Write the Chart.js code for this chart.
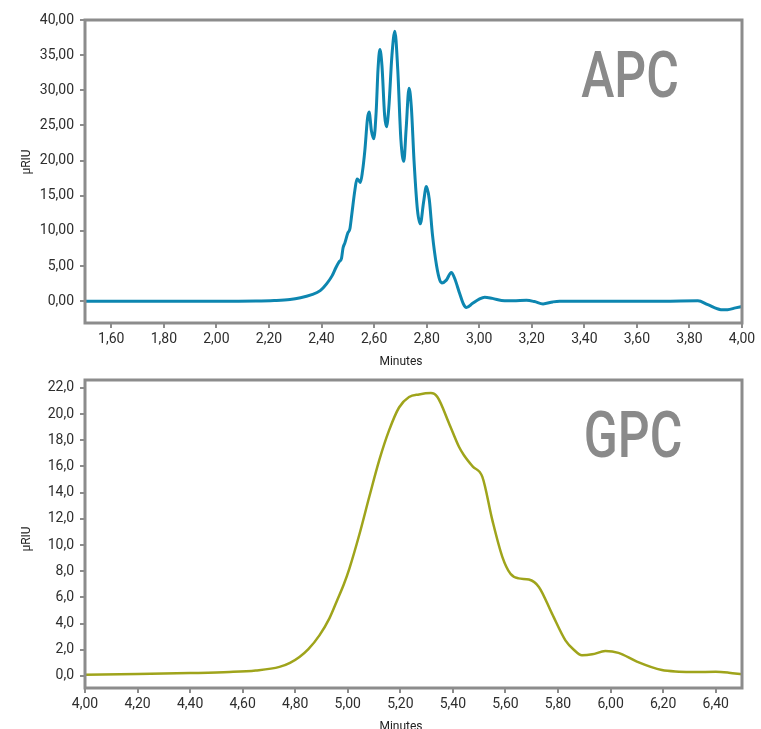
<!DOCTYPE html>
<html>
<head>
<meta charset="utf-8">
<script src="https://cdn.jsdelivr.net/npm/chart.js@4.4.1/dist/chart.umd.min.js"></script>
<style>
  body { margin: 0; background: #fff; }
  .box { position: absolute; left: 0; width: 761px; }
  #apcBox { top: 0; height: 370px; }
  #gpcBox { top: 360px; height: 369px; }
</style>
</head>
<body>
<div class="box" id="apcBox"><canvas id="apcChart"></canvas></div>
<div class="box" id="gpcBox"><canvas id="gpcChart"></canvas></div>
<script>
// APC trace (minutes, µRIU)
const apcTime = [1.50, 1.80, 2.00, 2.15, 2.22, 2.28, 2.32, 2.36, 2.395, 2.42, 2.44, 2.455, 2.467, 2.476, 2.482,
  2.489, 2.500, 2.508, 2.515, 2.527, 2.535, 2.541, 2.548, 2.556, 2.565, 2.575, 2.581, 2.590, 2.599,
  2.608, 2.615, 2.622, 2.630, 2.640, 2.647, 2.656, 2.668, 2.679, 2.690, 2.702, 2.713, 2.722, 2.733,
  2.742, 2.752, 2.765, 2.776, 2.788, 2.799, 2.810, 2.822, 2.838, 2.850, 2.858, 2.875, 2.894, 2.906,
  2.926, 2.940, 2.951, 2.975, 3.000, 3.021, 3.050, 3.097, 3.140, 3.180, 3.210, 3.243, 3.280, 3.306,
  3.500, 3.700, 3.832, 3.870, 3.920, 3.945, 3.975, 4.000];
const apcSignal = [0.00, 0.00, -0.02, 0.02, 0.10, 0.25, 0.50, 0.90, 1.50, 2.5, 3.6, 4.8, 5.6, 6.1, 7.6,
  8.3, 9.7, 10.3, 12.3, 15.8, 17.4, 17.2, 16.9, 18.5, 21.5, 26.0, 26.9, 24.2, 23.1,
  27.0, 33.0, 35.8, 33.5, 26.5, 24.8, 27.5, 35.0, 38.4, 33.0, 23.0, 19.9, 24.5, 30.3,
  27.5, 20.0, 13.0, 11.0, 14.0, 16.3, 14.5, 9.5, 5.0, 3.0, 2.6, 3.0, 4.1, 3.3,
  1.05, -0.4, -0.9, -0.3, 0.3, 0.57, 0.4, 0.05, 0.08, 0.12, -0.05, -0.38, -0.1, 0.0,
  0.0, 0.0, 0.05, -0.5, -1.2, -1.2, -0.95, -0.75];
const apcXTicks = [1.6, 1.8, 2.0, 2.2, 2.4, 2.6, 2.8, 3.0, 3.2, 3.4, 3.6, 3.8, 4.0];
const apcYTicks = [0, 5, 10, 15, 20, 25, 30, 35, 40];

// GPC trace (minutes, µRIU)
const gpcTime = [4.00, 4.20, 4.40, 4.55, 4.65, 4.74, 4.78, 4.816, 4.85, 4.892, 4.93, 4.96, 4.985, 5.006, 5.044,
  5.082, 5.120, 5.157, 5.195, 5.233, 5.271, 5.316, 5.341, 5.385, 5.423, 5.442, 5.475, 5.512, 5.550,
  5.588, 5.619, 5.650, 5.689, 5.727, 5.777, 5.828, 5.860, 5.891, 5.930, 5.980, 6.030, 6.100, 6.195,
  6.260, 6.320, 6.400, 6.450, 6.500];
const gpcSignal = [0.10, 0.15, 0.22, 0.30, 0.42, 0.69, 1.00, 1.45, 2.05, 3.1, 4.4, 5.8, 7.0, 8.2, 10.8,
  13.7, 16.5, 18.75, 20.5, 21.3, 21.5, 21.6, 21.3, 19.3, 17.5, 16.85, 16.0, 15.2, 11.9,
  9.1, 7.8, 7.45, 7.36, 6.8, 4.76, 2.72, 2.0, 1.58, 1.65, 1.9, 1.76, 1.10, 0.45,
  0.33, 0.30, 0.32, 0.25, 0.12];
const gpcXTicks = [4.0, 4.2, 4.4, 4.6, 4.8, 5.0, 5.2, 5.4, 5.6, 5.8, 6.0, 6.2, 6.4];
const gpcYTicks = [0, 2, 4, 6, 8, 10, 12, 14, 16, 18, 20, 22];

const FONT = "Roboto, 'DejaVu Sans', sans-serif";
const AXIS_GREY = "#8c8c8c";

// frame round the plot plus the free text (big label, axis names)
const framePlugin = {
  id: "frame",
  afterDraw(chart, args, opts) {
    const ctx = chart.ctx;
    const a = chart.chartArea;
    ctx.save();
    ctx.strokeStyle = AXIS_GREY;
    ctx.lineWidth = 3;
    ctx.strokeRect(a.left, a.top, a.right - a.left, a.bottom - a.top);

    // big name in the corner
    ctx.fillStyle = "#8a8a8a";
    ctx.textAlign = "center";
    ctx.textBaseline = "alphabetic";
    ctx.save();
    ctx.translate(opts.labelX, a.top + 77);
    ctx.scale(0.78, 1);
    ctx.font = "500 64px " + FONT;
    ctx.fillText(opts.label, 0, 0);
    ctx.restore();

    // axis names
    ctx.fillStyle = "#222";
    ctx.font = "12px " + FONT;
    ctx.fillText("Minutes", 401, a.bottom + 42);
    ctx.translate(30, opts.yTitleY);
    ctx.rotate(-Math.PI / 2);
    ctx.fillText("µRIU", 0, 0);
    ctx.restore();
  }
};

function makeChart(id, cfg) {
  const points = cfg.time.map((t, i) => ({ x: t, y: cfg.signal[i] }));
  return new Chart(document.getElementById(id), {
    type: "line",
    data: {
      datasets: [{
        data: points,
        borderColor: cfg.color,
        borderWidth: cfg.lineWidth,
        pointRadius: 0,
        cubicInterpolationMode: "monotone",
        fill: false
      }]
    },
    options: {
      responsive: true,
      maintainAspectRatio: false,
      animation: false,
      layout: { padding: { top: 20, right: 19, left: 0, bottom: 0 } },
      plugins: {
        legend: { display: false },
        tooltip: { enabled: false },
        frame: { label: cfg.label, labelX: cfg.labelX, yTitleY: cfg.yTitleY }
      },
      scales: {
        x: {
          type: "linear",
          min: cfg.xMin,
          max: cfg.xMax,
          afterBuildTicks: s => { s.ticks = cfg.xTicks.map(v => ({ value: v })); },
          afterFit: s => { s.height = cfg.xAxisHeight; },
          grid: { drawOnChartArea: false, tickLength: 5, color: AXIS_GREY, lineWidth: 2 },
          border: { display: false },
          ticks: {
            color: "#2e2e2e", font: { family: FONT, size: 14 }, padding: 3,
            maxRotation: 0, autoSkip: false,
            callback: v => v.toFixed(2).replace(".", ",")
          }
        },
        y: {
          min: cfg.yMin,
          max: cfg.yMax,
          afterBuildTicks: s => { s.ticks = cfg.yTicks.map(v => ({ value: v })); },
          afterFit: s => { s.width = 85; },
          grid: { drawOnChartArea: false, tickLength: 5, color: AXIS_GREY, lineWidth: 2 },
          border: { display: false },
          ticks: {
            color: "#2e2e2e", font: { family: FONT, size: 14 }, padding: 6,
            callback: v => v.toFixed(cfg.yDigits).replace(".", ",")
          }
        }
      }
    },
    plugins: [framePlugin]
  });
}

window.addEventListener("DOMContentLoaded", () => {
  makeChart("apcChart", {
    time: apcTime, signal: apcSignal, xTicks: apcXTicks, yTicks: apcYTicks,
    xMin: 1.5, xMax: 4.0, yMin: -3.1, yMax: 40, yDigits: 2,
    color: "#0d86b0", lineWidth: 3, xAxisHeight: 47,
    label: "APC", labelX: 630, yTitleY: 162
  });
  makeChart("gpcChart", {
    time: gpcTime, signal: gpcSignal, xTicks: gpcXTicks, yTicks: gpcYTicks,
    xMin: 4.0, xMax: 6.5, yMin: -0.92, yMax: 22.6, yDigits: 1,
    color: "#9fa41b", lineWidth: 2.5, xAxisHeight: 41,
    label: "GPC", labelX: 633, yTitleY: 179
  });
});
</script>
</body>
</html>
